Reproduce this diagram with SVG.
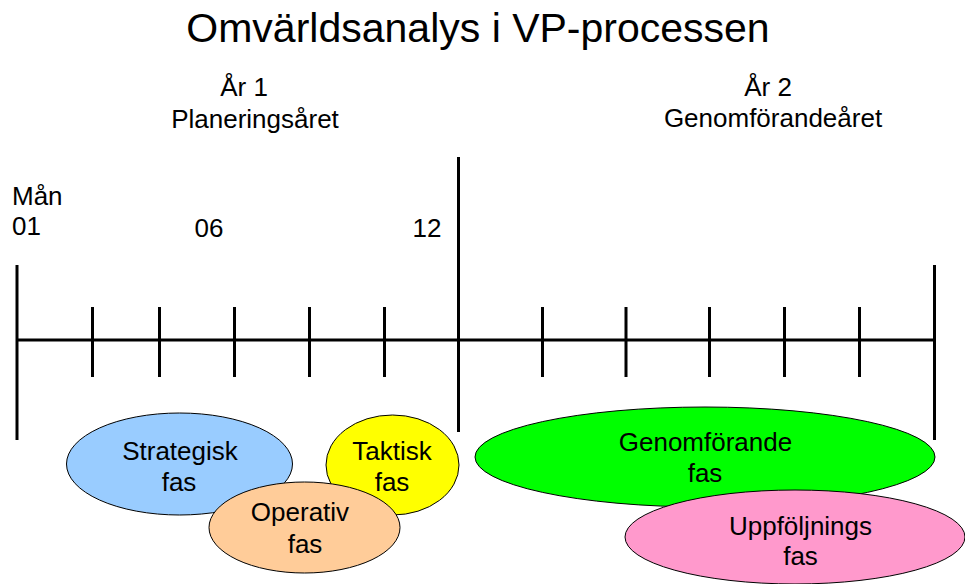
<svg xmlns="http://www.w3.org/2000/svg" width="965" height="584" viewBox="0 0 965 584">
<style>
text{font-family:"Liberation Sans",Arial,sans-serif;fill:#000}
.t{font-size:26px;text-anchor:middle}
.l{font-size:26px}
.ax{stroke:#000;stroke-width:3;fill:none}
.e{stroke:#000;stroke-width:1}
</style>
<rect width="965" height="584" fill="#fff"/>
<text x="478" y="42" font-size="41" text-anchor="middle">Omvärldsanalys i VP-processen</text>
<g id="year1">
<text class="t" x="244" y="96">År 1</text>
<text class="t" x="255" y="128">Planeringsåret</text>
</g>
<g id="year2">
<text class="t" x="768" y="96">År 2</text>
<text class="t" x="773" y="127">Genomförandeåret</text>
</g>
<g id="months">
<text class="l" x="12" y="205">Mån</text>
<text class="l" x="12" y="235">01</text>
<text class="t" x="209" y="237">06</text>
<text class="t" x="427" y="237">12</text>
</g>
<g id="timeline" class="ax">
<line x1="17" y1="340" x2="935" y2="340"/>
<line x1="17" y1="265" x2="17" y2="440"/>
<line x1="458.5" y1="157" x2="458.5" y2="432"/>
<line x1="934.5" y1="265" x2="934.5" y2="440"/>
<path d="M92.5 307V377M159.5 307V377M234.5 307V377M309.5 307V377M384.5 307V377M542.5 307V377M626 307V377M709.5 307V377M784.5 307V377M859.5 307V377"/>
</g>
<g id="strategisk">
<ellipse class="e" cx="179.5" cy="464" rx="113" ry="51" fill="#99CCFF"/>
<text class="t" x="180" y="460">Strategisk</text>
<text class="t" x="179" y="491">fas</text>
</g>
<g id="taktisk">
<ellipse class="e" cx="392.5" cy="465" rx="66.5" ry="50" fill="#FFFF00"/>
<text class="t" x="392" y="460">Taktisk</text>
<text class="t" x="392" y="491">fas</text>
</g>
<g id="operativ">
<ellipse class="e" cx="304.5" cy="527.5" rx="95.5" ry="45.5" fill="#FFCC99"/>
<text class="t" x="300" y="521">Operativ</text>
<text class="t" x="305" y="553">fas</text>
</g>
<g id="genomforande">
<ellipse class="e" cx="705" cy="457" rx="230" ry="50" fill="#00FF00"/>
<text class="t" x="705.5" y="451">Genomförande</text>
<text class="t" x="705" y="482">fas</text>
</g>
<g id="uppfoljning">
<ellipse class="e" cx="795" cy="537" rx="170" ry="47" fill="#FF99CC"/>
<text class="t" x="800.5" y="535">Uppföljnings</text>
<text class="t" x="800.5" y="565">fas</text>
</g>
</svg>
